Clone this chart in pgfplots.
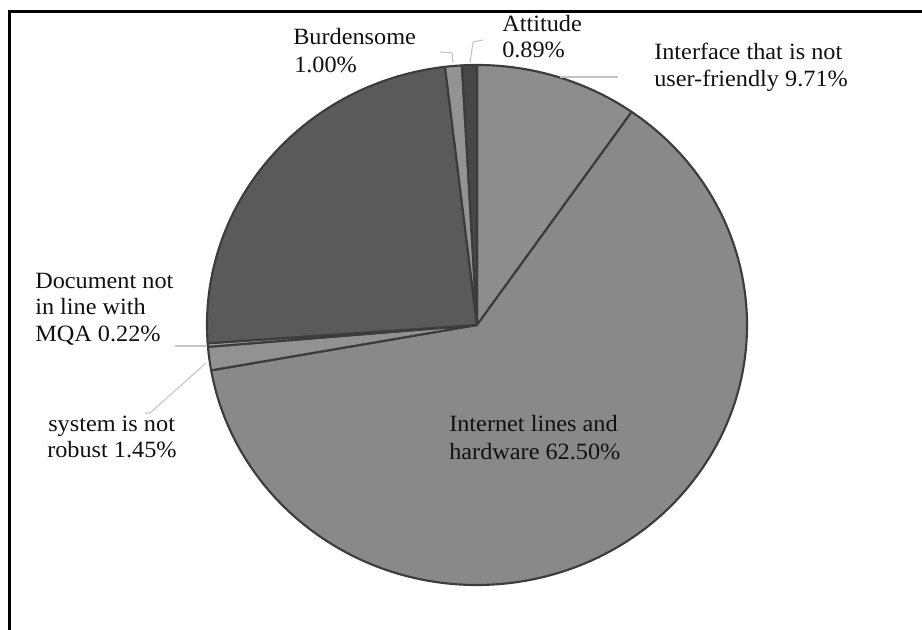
\documentclass[border=0pt]{standalone}
\usepackage{pgfplots}
\usepackage{pgfplotstable}
\pgfplotsset{compat=1.18}
\usepackage{fontspec}
\setmainfont{Liberation Serif}[FakeStretch=1.04]

\definecolor{shInterface}{HTML}{8D8D8D}
\definecolor{shInternet}{HTML}{898989}
\definecolor{shRobust}{HTML}{929292}
\definecolor{shDocument}{HTML}{A0A0A0}
\definecolor{shDark}{HTML}{5A5A5A}
\definecolor{shBurden}{HTML}{939393}
\definecolor{shAttitude}{HTML}{474747}
\definecolor{pieedge}{HTML}{3C3C3C}
\definecolor{leader}{HTML}{C4C4C4}
\definecolor{labeltext}{HTML}{111111}

% shares in percent, clockwise from twelve o'clock
\pgfplotstableread{
share  shade
9.71   shInterface
62.50  shInternet
1.45   shRobust
0.22   shDocument
24.23  shDark
1.00   shBurden
0.89   shAttitude
}\slices

\begin{document}
\begin{tikzpicture}
\begin{axis}[
  x=0.75pt, y=0.75pt,
  xmin=0, xmax=922, ymin=0, ymax=630,
  hide axis, clip=false, scale only axis,
]
  \coordinate (bl) at (axis cs:0,0);
  \coordinate (tr) at (axis cs:922,630);
  % pie: centre (477,305), radii 270 x 260
  \def\cum{0}
  \pgfplotsforeachungrouped \i in {0,...,6}{%
    \pgfplotstablegetelem{\i}{share}\of\slices \let\val\pgfplotsretval
    \pgfplotstablegetelem{\i}{shade}\of\slices \let\col\pgfplotsretval
    \pgfmathsetmacro\sa{90-3.6*\cum}%
    \pgfmathsetmacro\ea{90-3.6*(\cum+\val)}%
    \pgfmathsetmacro\cum{\cum+\val}%
    \edef\slice{\noexpand\filldraw[fill=\col, draw=pieedge, line width=1.6pt, line join=round]
      (axis cs:477,305) -- (axis cs:{477+270*cos(\sa)},{305+260*sin(\sa)})
      arc[start angle=\sa, end angle=\ea, x radius=202.5pt, y radius=195pt] -- cycle;}%
    \slice
  }
  % leader lines
  \draw[leader, line width=0.8pt] (axis cs:470,567) -- (axis cs:473,588) -- (axis cs:483,590);
  \draw[leader, line width=0.8pt] (axis cs:453,567) -- (axis cs:452,577) -- (axis cs:440,578);
  \draw[leader, line width=0.8pt] (axis cs:560,553) -- (axis cs:618,553);
  \draw[leader, line width=0.8pt] (axis cs:175,284) -- (axis cs:206,284);
  \draw[leader, line width=0.8pt] (axis cs:206,267) -- (axis cs:150,217) -- (axis cs:145,217);
  % labels
  \begin{scope}[every node/.style={anchor=base west, inner sep=0pt, text=labeltext,
      font=\fontsize{17.5}{20}\selectfont}]
    \node at (axis cs:293,585) {Burdensome};
    \node at (axis cs:294,557) {1.00\%};
    \node at (axis cs:502,598) {Attitude};
    \node at (axis cs:502,572) {0.89\%};
    \node at (axis cs:654,570) {Interface that is not};
    \node at (axis cs:654,543) {user-friendly 9.71\%};
    \node at (axis cs:35,341) {Document not};
    \node at (axis cs:35,315) {in line with};
    \node at (axis cs:35,288) {MQA 0.22\%};
    \node at (axis cs:48,198) {system is not};
    \node at (axis cs:47,172) {robust 1.45\%};
    \node at (axis cs:449,198) {Internet lines and};
    \node at (axis cs:449,170) {hardware 62.50\%};
  \end{scope}
  % frame
  \draw[black, line width=2.4pt] (axis cs:9.8,0) -- (axis cs:9.8,618.5) -- (axis cs:922,618.5);
\end{axis}
\pgfresetboundingbox
\path[use as bounding box] (bl) rectangle (tr);
\end{tikzpicture}
\end{document}
